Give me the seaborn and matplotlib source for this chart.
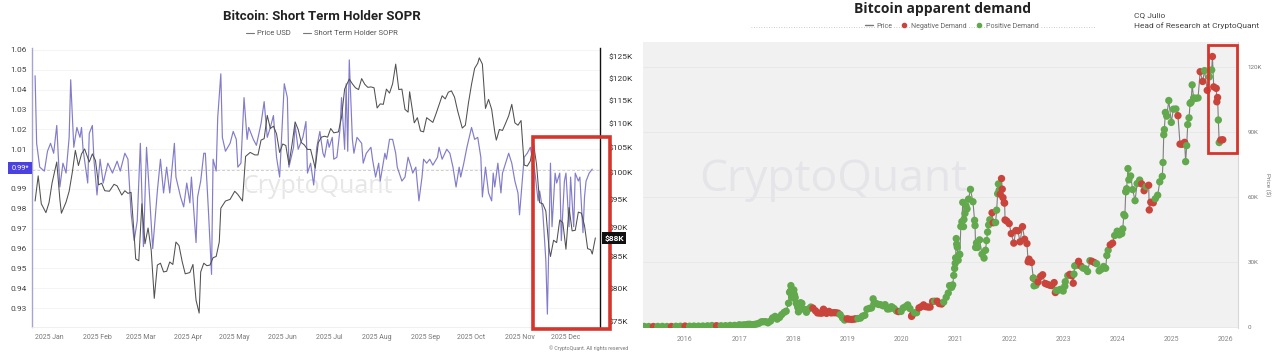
import matplotlib
matplotlib.use('Agg')
import matplotlib.pyplot as plt
import seaborn as sns
import pandas as pd
from matplotlib.patches import Rectangle
from matplotlib.lines import Line2D
from matplotlib.ticker import NullLocator, FixedLocator

# ---------------- Left chart data: Bitcoin STH SOPR (2025) ----------------
price_dates = [
    "2024-12-23", "2024-12-25", "2024-12-27", "2024-12-30", "2025-01-01", "2025-01-03", "2025-01-06",
    "2025-01-08", "2025-01-09", "2025-01-12", "2025-01-14", "2025-01-16", "2025-01-18", "2025-01-20",
    "2025-01-22", "2025-01-24", "2025-01-27", "2025-01-29", "2025-01-31", "2025-02-02", "2025-02-04",
    "2025-02-06", "2025-02-09", "2025-02-12", "2025-02-14", "2025-02-17", "2025-02-19", "2025-02-21",
    "2025-02-23", "2025-02-25", "2025-02-26", "2025-02-28", "2025-03-02", "2025-03-04", "2025-03-06",
    "2025-03-08", "2025-03-10", "2025-03-12", "2025-03-14", "2025-03-16", "2025-03-18", "2025-03-20",
    "2025-03-22", "2025-03-24", "2025-03-26", "2025-03-28", "2025-03-30", "2025-04-02", "2025-04-04",
    "2025-04-06", "2025-04-08", "2025-04-09", "2025-04-11", "2025-04-13", "2025-04-15", "2025-04-17",
    "2025-04-19", "2025-04-21", "2025-04-22", "2025-04-25", "2025-04-28", "2025-05-01", "2025-05-03",
    "2025-05-06", "2025-05-08", "2025-05-11", "2025-05-14", "2025-05-16", "2025-05-18", "2025-05-20",
    "2025-05-22", "2025-05-24", "2025-05-26", "2025-05-28", "2025-05-30", "2025-06-01", "2025-06-03",
    "2025-06-05", "2025-06-07", "2025-06-09", "2025-06-11", "2025-06-13", "2025-06-15", "2025-06-17",
    "2025-06-19", "2025-06-22", "2025-06-24", "2025-06-26", "2025-06-28", "2025-06-30", "2025-07-02",
    "2025-07-04", "2025-07-07", "2025-07-09", "2025-07-11", "2025-07-14", "2025-07-16", "2025-07-18",
    "2025-07-20", "2025-07-22", "2025-07-24", "2025-07-26", "2025-07-28", "2025-07-30", "2025-08-01",
    "2025-08-03", "2025-08-05", "2025-08-07", "2025-08-09", "2025-08-11", "2025-08-13", "2025-08-15",
    "2025-08-17", "2025-08-19", "2025-08-21", "2025-08-22", "2025-08-25", "2025-08-27", "2025-08-29",
    "2025-08-31", "2025-09-02", "2025-09-04", "2025-09-06", "2025-09-08", "2025-09-10", "2025-09-12",
    "2025-09-14", "2025-09-16", "2025-09-18", "2025-09-20", "2025-09-22", "2025-09-25", "2025-09-27",
    "2025-09-29", "2025-10-01", "2025-10-03", "2025-10-05", "2025-10-06", "2025-10-08", "2025-10-10",
    "2025-10-12", "2025-10-14", "2025-10-16", "2025-10-17", "2025-10-19", "2025-10-21", "2025-10-23",
    "2025-10-25", "2025-10-27", "2025-10-29", "2025-10-31", "2025-11-02", "2025-11-04", "2025-11-06",
    "2025-11-08", "2025-11-10", "2025-11-12", "2025-11-14", "2025-11-16", "2025-11-18", "2025-11-20",
    "2025-11-21", "2025-11-23", "2025-11-25", "2025-11-27", "2025-11-29", "2025-12-01", "2025-12-03",
    "2025-12-05", "2025-12-07", "2025-12-09", "2025-12-11", "2025-12-13", "2025-12-15", "2025-12-17",
    "2025-12-18", "2025-12-20",
]
price_usd = [
    94.7, 99.4, 94.2, 92.6, 94.4, 98.1, 102.1,
    95.0, 92.5, 94.5, 96.5, 100.0, 104.4, 101.4,
    103.7, 104.7, 102.1, 103.7, 102.4, 97.7, 98.0,
    96.6, 96.5, 97.8, 97.5, 95.8, 96.6, 96.1,
    96.3, 88.7, 84.7, 84.4, 94.2, 87.2, 89.9,
    86.2, 78.5, 83.7, 84.0, 82.6, 82.7, 84.2,
    83.8, 87.5, 86.9, 84.3, 82.3, 82.5, 83.8,
    78.2, 76.3, 82.6, 84.0, 83.6, 83.7, 84.9,
    85.1, 87.5, 93.4, 94.7, 95.0, 96.5, 95.9,
    94.7, 103.2, 104.0, 103.5, 103.5, 106.5, 106.8,
    111.7, 108.9, 109.4, 107.8, 104.0, 105.7, 105.4,
    101.6, 105.6, 110.3, 108.7, 106.0, 105.5, 104.6,
    104.6, 100.9, 106.0, 107.1, 107.3, 107.1, 108.9,
    108.0, 108.2, 111.3, 117.5, 119.8, 118.7, 117.8,
    117.4, 119.9, 118.6, 117.9, 118.0, 117.8, 113.3,
    114.2, 114.1, 117.5, 116.6, 118.7, 123.3, 117.4,
    117.5, 113.0, 112.4, 116.9, 110.1, 111.2, 108.4,
    108.2, 111.2, 110.7, 110.2, 112.0, 114.0, 116.0,
    115.3, 116.8, 117.1, 115.7, 112.7, 109.0, 109.6,
    114.4, 118.6, 122.3, 123.5, 124.8, 123.3, 113.2,
    115.2, 113.0, 108.2, 106.5, 108.7, 108.5, 110.0,
    111.6, 114.1, 110.1, 109.6, 110.6, 101.5, 101.3,
    102.3, 105.9, 101.6, 94.4, 94.2, 92.9, 86.6,
    85.1, 87.8, 87.4, 91.3, 90.8, 86.3, 93.5,
    89.4, 89.5, 92.7, 92.5, 90.3, 86.4, 86.2,
    85.5, 88.2,
]
sopr_dates = [
    "2024-12-23", "2024-12-24", "2024-12-26", "2024-12-29", "2024-12-31", "2025-01-02", "2025-01-04",
    "2025-01-06", "2025-01-08", "2025-01-10", "2025-01-12", "2025-01-14", "2025-01-15", "2025-01-17",
    "2025-01-19", "2025-01-21", "2025-01-22", "2025-01-23", "2025-01-26", "2025-01-27", "2025-01-29",
    "2025-01-30", "2025-02-01", "2025-02-03", "2025-02-05", "2025-02-08", "2025-02-11", "2025-02-14",
    "2025-02-16", "2025-02-19", "2025-02-21", "2025-02-23", "2025-02-25", "2025-02-27", "2025-03-01",
    "2025-03-03", "2025-03-05", "2025-03-07", "2025-03-09", "2025-03-12", "2025-03-14", "2025-03-16",
    "2025-03-18", "2025-03-20", "2025-03-23", "2025-03-24", "2025-03-27", "2025-03-29", "2025-03-31",
    "2025-04-02", "2025-04-03", "2025-04-06", "2025-04-07", "2025-04-09", "2025-04-11", "2025-04-12",
    "2025-04-14", "2025-04-16", "2025-04-17", "2025-04-19", "2025-04-20", "2025-04-22", "2025-04-23",
    "2025-04-25", "2025-04-28", "2025-04-30", "2025-05-02", "2025-05-03", "2025-05-05", "2025-05-07",
    "2025-05-09", "2025-05-10", "2025-05-13", "2025-05-15", "2025-05-18", "2025-05-20", "2025-05-22",
    "2025-05-24", "2025-05-26", "2025-05-28", "2025-05-30", "2025-06-02", "2025-06-04", "2025-06-05",
    "2025-06-08", "2025-06-09", "2025-06-11", "2025-06-14", "2025-06-16", "2025-06-17", "2025-06-19",
    "2025-06-21", "2025-06-23", "2025-06-25", "2025-06-27", "2025-06-28", "2025-06-30", "2025-07-01",
    "2025-07-03", "2025-07-04", "2025-07-06", "2025-07-08", "2025-07-09", "2025-07-11", "2025-07-12",
    "2025-07-13", "2025-07-14", "2025-07-16", "2025-07-17", "2025-07-19", "2025-07-22", "2025-07-23",
    "2025-07-25", "2025-07-28", "2025-07-29", "2025-07-31", "2025-08-02", "2025-08-03", "2025-08-06",
    "2025-08-07", "2025-08-09", "2025-08-11", "2025-08-13", "2025-08-14", "2025-08-17", "2025-08-19",
    "2025-08-21", "2025-08-23", "2025-08-24", "2025-08-26", "2025-08-28", "2025-08-30", "2025-08-31",
    "2025-09-02", "2025-09-04", "2025-09-06", "2025-09-09", "2025-09-10", "2025-09-12", "2025-09-15",
    "2025-09-17", "2025-09-19", "2025-09-21", "2025-09-23", "2025-09-24", "2025-09-26", "2025-09-28",
    "2025-10-01", "2025-10-03", "2025-10-05", "2025-10-07", "2025-10-08", "2025-10-10", "2025-10-12",
    "2025-10-14", "2025-10-15", "2025-10-16", "2025-10-18", "2025-10-20", "2025-10-21", "2025-10-23",
    "2025-10-25", "2025-10-27", "2025-10-29", "2025-10-31", "2025-11-01", "2025-11-03", "2025-11-04",
    "2025-11-06", "2025-11-08", "2025-11-11", "2025-11-13", "2025-11-14", "2025-11-16", "2025-11-18",
    "2025-11-19", "2025-11-21", "2025-11-22", "2025-11-24", "2025-11-25", "2025-11-27", "2025-11-28",
    "2025-11-30", "2025-12-01", "2025-12-03", "2025-12-04", "2025-12-06", "2025-12-07", "2025-12-09",
    "2025-12-10", "2025-12-12", "2025-12-13", "2025-12-14", "2025-12-16", "2025-12-18",
]
sopr_values = [
    1.047, 1.013, 1.001, 0.999, 1.009, 1.013, 1.008,
    1.022, 0.991, 1.003, 0.998, 1.016, 1.045, 1.011,
    1.021, 1.016, 1.021, 1.010, 0.993, 1.018, 1.022,
    1.005, 0.987, 1.005, 0.993, 1.003, 0.998, 1.004,
    0.999, 1.008, 1.005, 0.978, 0.964, 0.974, 1.013,
    0.961, 1.011, 0.986, 0.960, 0.989, 1.005, 0.988,
    1.001, 0.988, 1.013, 0.996, 0.986, 0.981, 0.993,
    0.983, 0.996, 0.963, 0.986, 0.994, 1.008, 1.008,
    0.979, 0.947, 1.005, 0.999, 1.026, 1.048, 1.016,
    1.009, 1.013, 1.019, 1.015, 1.001, 1.003, 1.036,
    1.015, 1.021, 1.015, 1.012, 1.023, 1.034, 1.016,
    1.021, 1.027, 1.006, 0.996, 1.043, 1.036, 1.001,
    1.011, 1.022, 1.010, 1.016, 1.024, 0.998, 1.003,
    0.992, 1.011, 1.019, 1.008, 1.006, 1.015, 1.011,
    1.016, 1.005, 1.006, 1.020, 1.036, 1.010, 1.043,
    1.009, 1.055, 1.015, 1.008, 1.016, 1.013, 1.003,
    1.008, 1.011, 1.005, 0.996, 1.003, 0.994, 1.008,
    1.005, 1.015, 1.015, 1.008, 1.001, 0.994, 0.996,
    1.006, 1.001, 0.998, 1.001, 0.984, 0.996, 1.005,
    1.003, 1.005, 1.002, 1.006, 1.011, 1.005, 1.010,
    1.008, 1.001, 0.991, 1.001, 0.996, 1.003, 1.011,
    1.021, 1.015, 1.016, 1.006, 0.986, 1.001, 0.988,
    0.984, 0.998, 0.991, 1.003, 0.988, 0.998, 1.003,
    1.008, 1.003, 0.994, 0.988, 0.977, 0.996, 1.006,
    1.008, 1.011, 0.998, 0.984, 0.989, 0.979, 0.954,
    0.927, 1.003, 0.971, 0.998, 0.993, 0.998, 0.964,
    0.994, 0.998, 0.971, 0.996, 0.971, 0.998, 0.994,
    0.996, 0.968, 0.986, 0.994, 0.998, 1.000,
]
sopr_ticks = [0.93, 0.94, 0.95, 0.96, 0.97, 0.98, 0.99, 1.00, 1.01, 1.02, 1.03, 1.04, 1.05, 1.06]
price_ticks = [75, 80, 85, 90, 95, 100, 105, 110, 115, 120, 125]
month_labels = ["2025 Jan", "2025 Feb", "2025 Mar", "2025 Apr", "2025 May", "2025 Jun",
                "2025 Jul", "2025 Aug", "2025 Sep", "2025 Oct", "2025 Nov", "2025 Dec"]
sopr_current = 0.9995
price_current_label = "$88K"

# ---------------- Right chart data: Bitcoin apparent demand ----------------
demand_dates = [
    "2015-04-01", "2015-05-01", "2015-06-01", "2015-07-01", "2015-08-01", "2015-09-01", "2015-10-01",
    "2015-11-01", "2015-12-01", "2016-01-01", "2016-02-01", "2016-03-01", "2016-04-01", "2016-05-01",
    "2016-06-01", "2016-07-01", "2016-08-01", "2016-09-01", "2016-10-01", "2016-11-01", "2016-12-01",
    "2017-01-01", "2017-01-15", "2017-02-01", "2017-02-15", "2017-03-01", "2017-03-15", "2017-04-01",
    "2017-04-15", "2017-05-01", "2017-05-15", "2017-06-01", "2017-06-15", "2017-07-01", "2017-07-15",
    "2017-08-01", "2017-08-15", "2017-09-01", "2017-09-15", "2017-10-01", "2017-10-15", "2017-11-01",
    "2017-11-15", "2017-12-01", "2017-12-08", "2017-12-17", "2017-12-22", "2018-01-01", "2018-01-06",
    "2018-01-15", "2018-02-01", "2018-02-06", "2018-02-15", "2018-03-01", "2018-03-15", "2018-04-01",
    "2018-04-15", "2018-05-01", "2018-05-15", "2018-06-01", "2018-06-15", "2018-07-01", "2018-07-15",
    "2018-07-25", "2018-08-01", "2018-08-15", "2018-09-01", "2018-09-15", "2018-10-01", "2018-10-15",
    "2018-11-01", "2018-11-15", "2018-12-01", "2018-12-15", "2019-01-01", "2019-01-15", "2019-02-01",
    "2019-02-15", "2019-03-01", "2019-03-15", "2019-04-01", "2019-04-15", "2019-05-01", "2019-05-15",
    "2019-06-01", "2019-06-15", "2019-06-26", "2019-07-01", "2019-07-15", "2019-08-01", "2019-08-15",
    "2019-09-01", "2019-09-15", "2019-10-01", "2019-10-15", "2019-10-26", "2019-11-01", "2019-11-15",
    "2019-12-01", "2019-12-15", "2020-01-01", "2020-01-15", "2020-02-01", "2020-02-15", "2020-03-01",
    "2020-03-12", "2020-03-15", "2020-04-01", "2020-04-15", "2020-05-01", "2020-05-15", "2020-06-01",
    "2020-06-15", "2020-07-01", "2020-07-15", "2020-08-01", "2020-08-15", "2020-09-01", "2020-09-15",
    "2020-10-01", "2020-10-15", "2020-11-01", "2020-11-15", "2020-12-01", "2020-12-15", "2021-01-01",
    "2021-01-08", "2021-01-15", "2021-02-01", "2021-02-15", "2021-03-01", "2021-03-15", "2021-04-01",
    "2021-04-14", "2021-05-01", "2021-05-15", "2021-06-01", "2021-06-15", "2021-07-01", "2021-07-15",
    "2021-08-01", "2021-08-15", "2021-09-01", "2021-09-07", "2021-09-15", "2021-10-01", "2021-10-15",
    "2021-10-20", "2021-11-01", "2021-11-10", "2021-11-15", "2021-12-01", "2021-12-15", "2022-01-01",
    "2022-01-15", "2022-02-01", "2022-02-15", "2022-03-01", "2022-03-15", "2022-04-01", "2022-04-15",
    "2022-05-01", "2022-05-15", "2022-06-01", "2022-06-15", "2022-07-01", "2022-07-15", "2022-08-01",
    "2022-08-15", "2022-09-01", "2022-09-15", "2022-10-01", "2022-10-15", "2022-11-01", "2022-11-15",
    "2022-12-01", "2022-12-15", "2023-01-01", "2023-01-15", "2023-02-01", "2023-02-15", "2023-03-01",
    "2023-03-15", "2023-04-01", "2023-04-15", "2023-05-01", "2023-05-15", "2023-06-01", "2023-06-15",
    "2023-07-01", "2023-07-15", "2023-08-01", "2023-08-15", "2023-09-01", "2023-09-15", "2023-10-01",
    "2023-10-15", "2023-11-01", "2023-11-15", "2023-12-01", "2023-12-15", "2024-01-01", "2024-01-15",
    "2024-02-01", "2024-02-15", "2024-03-01", "2024-03-14", "2024-04-01", "2024-04-15", "2024-05-01",
    "2024-05-15", "2024-06-01", "2024-06-15", "2024-07-01", "2024-07-15", "2024-08-01", "2024-08-05",
    "2024-08-15", "2024-09-01", "2024-09-15", "2024-10-01", "2024-10-15", "2024-11-01", "2024-11-15",
    "2024-12-01", "2024-12-15", "2025-01-01", "2025-01-15", "2025-02-01", "2025-02-15", "2025-03-01",
    "2025-03-15", "2025-04-01", "2025-04-08", "2025-04-15", "2025-05-01", "2025-05-15", "2025-06-01",
    "2025-06-15", "2025-07-01", "2025-07-15", "2025-08-01", "2025-08-14", "2025-09-01", "2025-09-15",
    "2025-10-01", "2025-10-06", "2025-10-15", "2025-11-01", "2025-11-15", "2025-11-21", "2025-12-01",
    "2025-12-15",
    # additional readings on the steep stretches
    "2017-12-13", "2017-12-28", "2018-01-10", "2018-01-22", "2018-02-20",
    "2020-11-24", "2020-12-08", "2020-12-22", "2020-12-28", "2021-01-04", "2021-01-11", "2021-01-21",
    "2021-01-28", "2021-02-08", "2021-02-21", "2021-02-26", "2021-03-08", "2021-03-22",
    "2021-05-12", "2021-05-19", "2021-05-25", "2021-07-25", "2021-08-08", "2021-08-23",
    "2021-10-08", "2021-10-25", "2021-11-20", "2021-11-28", "2021-12-04",
    "2022-05-09", "2022-06-13", "2022-06-18", "2022-11-09",
    "2023-01-12", "2023-03-10", "2023-03-20", "2023-10-23",
    "2024-02-08", "2024-02-22", "2024-02-28", "2024-03-05", "2024-03-20",
    "2024-11-06", "2024-11-11", "2024-11-22", "2025-04-22", "2025-05-08", "2025-05-22",
    "2025-11-05", "2025-11-10",
]
demand_price = [  # thousand USD
    0.247, 0.232, 0.223, 0.258, 0.281, 0.228, 0.238,
    0.325, 0.362, 0.434, 0.371, 0.435, 0.417, 0.451,
    0.536, 0.676, 0.607, 0.572, 0.613, 0.729, 0.753,
    0.998, 0.818, 0.989, 1.006, 1.222, 1.254, 1.080,
    1.184, 1.421, 1.723, 2.408, 2.442, 2.434, 1.929,
    2.718, 4.160, 4.892, 3.637, 4.403, 5.680, 6.740,
    7.301, 10.975, 16.0, 19.1, 13.8, 13.4, 17.1,
    13.6, 9.1, 7.0, 10.2, 10.9, 8.2, 6.8,
    8.3, 9.2, 8.7, 7.5, 6.5, 6.4, 6.4,
    8.2, 7.6, 6.3, 7.2, 6.5, 6.6, 6.6,
    6.4, 5.7, 4.2, 3.2, 3.8, 3.6, 3.5,
    3.6, 3.8, 3.9, 4.1, 5.0, 5.4, 8.2,
    8.6, 8.8, 13.0, 10.6, 10.9, 10.4, 10.3,
    9.8, 10.3, 8.3, 8.4, 9.3, 9.2, 8.5,
    7.4, 7.1, 7.2, 8.8, 9.4, 10.2, 8.5,
    4.9, 5.4, 6.6, 6.6, 8.8, 9.3, 10.2,
    9.4, 9.2, 9.2, 11.8, 11.9, 11.9, 10.8,
    10.6, 11.5, 13.7, 15.7, 18.8, 19.4, 29.4,
    40.8, 36.8, 33.5, 48.6, 49.6, 55.9, 59.0,
    63.5, 57.8, 46.8, 36.7, 40.2, 33.6, 31.8,
    39.9, 47.1, 48.8, 52.7, 48.1, 48.2, 61.5,
    66.0, 61.3, 68.5, 63.6, 57.2, 48.9, 47.7,
    43.1, 38.7, 44.5, 44.4, 39.3, 46.3, 40.5,
    38.5, 31.3, 29.8, 22.6, 19.3, 20.8, 23.3,
    24.1, 20.1, 19.7, 19.3, 19.1, 20.5, 16.9,
    17.0, 17.4, 16.6, 20.9, 23.7, 24.3, 23.6,
    24.4, 28.5, 30.3, 28.1, 27.2, 26.8, 25.6,
    30.6, 30.3, 29.7, 29.2, 25.9, 26.6, 27.9,
    27.1, 35.4, 37.9, 38.7, 42.2, 44.2, 42.5,
    43.1, 51.9, 62.4, 73.1, 69.7, 63.4, 58.3,
    66.2, 67.8, 66.0, 62.9, 64.8, 65.4, 54.0,
    57.6, 57.3, 59.2, 60.8, 67.0, 69.5, 91.1,
    97.3, 104.5, 94.4, 100.5, 100.6, 97.5, 84.4,
    84.3, 85.2, 76.3, 83.7, 96.5, 103.7, 105.7,
    105.5, 105.7, 117.8, 113.3, 118.3, 109.2, 115.4,
    118.6, 124.8, 110.8, 110.1, 95.5, 85.1, 86.3,
    86.4,
    # additional readings on the steep stretches
    16.5, 14.6, 14.9, 10.9, 11.2,
    19.1, 18.3, 23.8, 27.0, 31.9, 38.2, 30.8,
    33.4, 46.4, 57.5, 46.3, 52.4, 54.5,
    49.2, 36.7, 38.8, 35.4, 43.8, 49.5,
    53.9, 63.1, 59.7, 57.3, 49.4,
    30.1, 22.5, 19.0, 15.9,
    18.8, 20.2, 28.2, 33.0,
    45.3, 51.3, 62.5, 63.8, 67.9,
    75.9, 88.7, 99.0, 93.4, 103.2, 111.7,
    103.9, 105.9,
]
demand_sign = list(  # P = positive demand, N = negative demand
    "PPNPPPN" "PPNPPPP" "PPNPPPP" "PPPPPPP" "PPPPPPP" "PPPPPPP" "PPPPPPP"
    "PPPPPPP" "PPNNNNN" "NNNNNNN" "NPPPNNN" "NNPPPPP" "PPPPPPP" "PPPPPPP"
    "PNPPPPP" "NNPPNNN" "NNNNPNN" "NPPPPPP" "PPPPPPP" "PPPPPPP" "PPPNNPP"
    "PNNNNNN" "NNNNNNN" "NNNPPNN" "NNNNNNP" "PPPPPNN" "PPNNPPP" "PNNPPPP"
    "PPNNPPP" "PPPPPPP" "PPNNPNN" "NNPPPPP" "PPPPPNN" "NNPPPPP" "PPNNPNP"
    "PNNNPPN" "N"
    # additional readings on the steep stretches
    "PPPPP"
    "PPPPPPP" "PPPPPP"
    "PPPPPP"
    "PPNNN"
    "NNPN"
    "PNPP"
    "PPPPP"
    "PPPPPP"
    "NN"
)
price_axis_ticks = [0, 30, 60, 90, 120]
price_axis_labels = ["0", "30K", "60K", "90K", "120K"]
year_ticks = [str(y) for y in range(2016, 2027)]

# ---------------- styling ----------------
sns.set_theme(style="white")
plt.rcParams["font.family"] = ["Roboto", "DejaVu Sans"]

W, H = 1280, 356
fig = plt.figure(figsize=(12.8, 3.56), dpi=100)
fig.patch.set_facecolor("white")


def fx(px):
    return px / W


def fy(py):
    return 1 - py / H


PURPLE = "#827cca"
DARK = "#505050"

# ---- left panel ----
ax1 = fig.add_axes([fx(32), fy(327), fx(600 - 32), (327 - 48) / H])
ax1.set_facecolor("white")
sopr_df = pd.DataFrame({"date": pd.to_datetime(sopr_dates), "sopr": sopr_values})
price_df = pd.DataFrame({"date": pd.to_datetime(price_dates), "price": [p * 1000 for p in price_usd]})

ax1.text(0.5035, 0.505, "CryptoQuant", transform=ax1.transAxes, fontsize=18, color="#e6e6e6",
         ha="center", va="center", zorder=0, family="Open Sans")
sns.lineplot(data=sopr_df, x="date", y="sopr", ax=ax1, color=PURPLE, lw=0.85, zorder=3)
ax1.axhline(sopr_current, color="#cfcfcf", lw=0.7, ls=(0, (3, 2)), zorder=1)
ax1.set_ylim(0.9205, 1.061)
ax1.set_xlim(pd.Timestamp("2024-12-21"), pd.Timestamp("2025-12-23"))
ax1.set_yticks(sopr_ticks)
ax1.set_yticklabels(["" if abs(t - 1.0) < 1e-9 else f"{t:.2f}" for t in sopr_ticks])
ax1.grid(axis="y", color="#f2f2f2", lw=0.6)
ax1.grid(axis="x", visible=False)
ax1.tick_params(axis="y", labelsize=6, labelcolor="#444", length=0, pad=4)
ax1.set_xticks(pd.date_range("2025-01-01", "2025-12-01", freq="MS"))
ax1.set_xticklabels(month_labels)
ax1.tick_params(axis="x", labelsize=5, labelcolor="#777", length=0, pad=5)
ax1.set_xlabel("")
ax1.set_ylabel("")
for s in ["top", "right"]:
    ax1.spines[s].set_visible(False)
ax1.spines["left"].set_color("#a7a4d4")
ax1.spines["left"].set_linewidth(1.0)
ax1.spines["bottom"].set_color("#ececec")
ax1.spines["bottom"].set_linewidth(0.6)

ax1b = ax1.twinx()
ax1b.set_yscale("log")
sns.lineplot(data=price_df, x="date", y="price", ax=ax1b, color=DARK, lw=0.75)
ax1b.set_ylim(74280, 127190)
ax1b.yaxis.set_major_locator(FixedLocator([t * 1000 for t in price_ticks]))
ax1b.yaxis.set_minor_locator(NullLocator())
ax1b.set_yticklabels([f"${t}K" for t in price_ticks])
ax1b.tick_params(axis="y", labelsize=6, labelcolor="#333", length=0, pad=6)
ax1b.set_ylabel("")
for s in ["top", "left", "bottom"]:
    ax1b.spines[s].set_visible(False)
ax1b.spines["right"].set_color("#111")
ax1b.spines["right"].set_linewidth(1.0)

fig.text(fx(322), fy(17), "Bitcoin: Short Term Holder SOPR", ha="center", va="center",
         fontsize=9.5, fontweight="bold", color="#222")
leg1 = fig.legend(handles=[Line2D([], [], color="#777", lw=0.8), Line2D([], [], color="#777", lw=0.8)],
                  labels=["Price USD", "Short Term Holder SOPR"], loc="center",
                  bbox_to_anchor=(fx(322), fy(33)), ncol=2, frameon=False, fontsize=5.5,
                  handlelength=1.0, handletextpad=0.4, columnspacing=1.6)
for t in leg1.get_texts():
    t.set_color("#555")

fig.text(fx(20), fy(168), "0.99*", color="white", fontsize=5.3, ha="center", va="center",
         bbox=dict(boxstyle="square,pad=0.4", fc="#4b40e0", ec="none"), zorder=12)
fig.text(fx(614), fy(238), price_current_label, color="white", fontsize=6, fontweight="bold",
         ha="center", va="center", bbox=dict(boxstyle="square,pad=0.3", fc="#111", ec="none"), zorder=12)
fig.text(fx(628), fy(348), "© CryptoQuant. All rights reserved", ha="right", va="center",
         fontsize=3.8, color="#777")

fig.add_artist(Rectangle((fx(533), fy(329)), fx(610 - 533), (329 - 137) / H, transform=fig.transFigure,
                         fill=False, ec="#d6352c", lw=2.6, zorder=11))

# ---- right panel ----
ax2 = fig.add_axes([fx(643), fy(328), fx(1238 - 643), (328 - 42) / H])
ax2.set_facecolor("#f1f1f1")
demand_df = pd.DataFrame({
    "date": pd.to_datetime(demand_dates),
    "price": [p * 1000 for p in demand_price],
    "demand": ["Positive Demand" if s == "P" else "Negative Demand" for s in demand_sign],
}).sort_values("date")
ax2.text(0.32, 0.52, "CryptoQuant", transform=ax2.transAxes, fontsize=32, color="#e5e5e9",
         ha="center", va="center", zorder=0, family="Open Sans")
sns.lineplot(data=demand_df, x="date", y="price", ax=ax2, color="#808080", lw=0.8, zorder=2)
sns.scatterplot(data=demand_df, x="date", y="price", hue="demand", ax=ax2,
                palette={"Positive Demand": "#62a84c", "Negative Demand": "#c9453c"},
                s=28, edgecolor="none", legend=False, zorder=3)
ax2.set_xlim(pd.Timestamp("2015-03-23"), pd.Timestamp("2026-03-28"))
ax2.set_ylim(-460, 131500)
ax2.set_xticks(pd.to_datetime([f"{y}-01-01" for y in year_ticks]))
ax2.set_xticklabels(year_ticks)
ax2.tick_params(axis="x", labelsize=5, labelcolor="#888", length=0, pad=6)
ax2.yaxis.tick_right()
ax2.set_yticks([t * 1000 for t in price_axis_ticks])
ax2.set_yticklabels(price_axis_labels)
ax2.tick_params(axis="y", labelsize=4.5, labelcolor="#777", length=0, pad=7)
ax2.yaxis.set_label_position("right")
ax2.set_ylabel("Price ($)", fontsize=4.5, color="#777", rotation=270, labelpad=6)
ax2.set_xlabel("")
ax2.grid(axis="y", color="#e7e7e7", lw=0.6)
ax2.grid(axis="x", visible=False)
for s in ["top", "left", "bottom"]:
    ax2.spines[s].set_visible(False)
ax2.spines["right"].set_color("#d8d8d8")
ax2.spines["right"].set_linewidth(0.8)

fig.text(fx(942), fy(9), "Bitcoin apparent demand", ha="center", va="center",
         fontsize=10, fontweight="bold", color="#222", family="Open Sans")
fig.add_artist(Line2D([fx(751), fx(1095)], [fy(27), fy(27)], transform=fig.transFigure,
                      color="#bdbdbd", lw=0.6, ls=(0, (1, 2))))
leg2 = fig.legend(handles=[Line2D([], [], color="#777", lw=1.0),
                           Line2D([], [], color="#c9453c", marker="o", lw=0, markersize=3),
                           Line2D([], [], color="#62a84c", marker="o", lw=0, markersize=3)],
                  labels=["Price", "Negative Demand", "Positive Demand"], loc="center",
                  bbox_to_anchor=(fx(952), fy(26)), ncol=3, frameon=False, fontsize=5,
                  handlelength=1.2, handletextpad=0.4, columnspacing=1.2)
for t in leg2.get_texts():
    t.set_color("#666")
    t.set_bbox(dict(fc="white", ec="none", pad=0.6))

fig.text(fx(1134), fy(15), "CQ Julio", ha="left", va="center", fontsize=6, color="#444")
fig.text(fx(1134), fy(26), "Head of Research at CryptoQuant", ha="left", va="center", fontsize=6, color="#444")

fig.add_artist(Rectangle((fx(1208), fy(153)), fx(1237 - 1208), (153 - 45) / H, transform=fig.transFigure,
                         fill=False, ec="#d6352c", lw=2.0, zorder=11))

fig.savefig("out.png", dpi=100, facecolor="white")
